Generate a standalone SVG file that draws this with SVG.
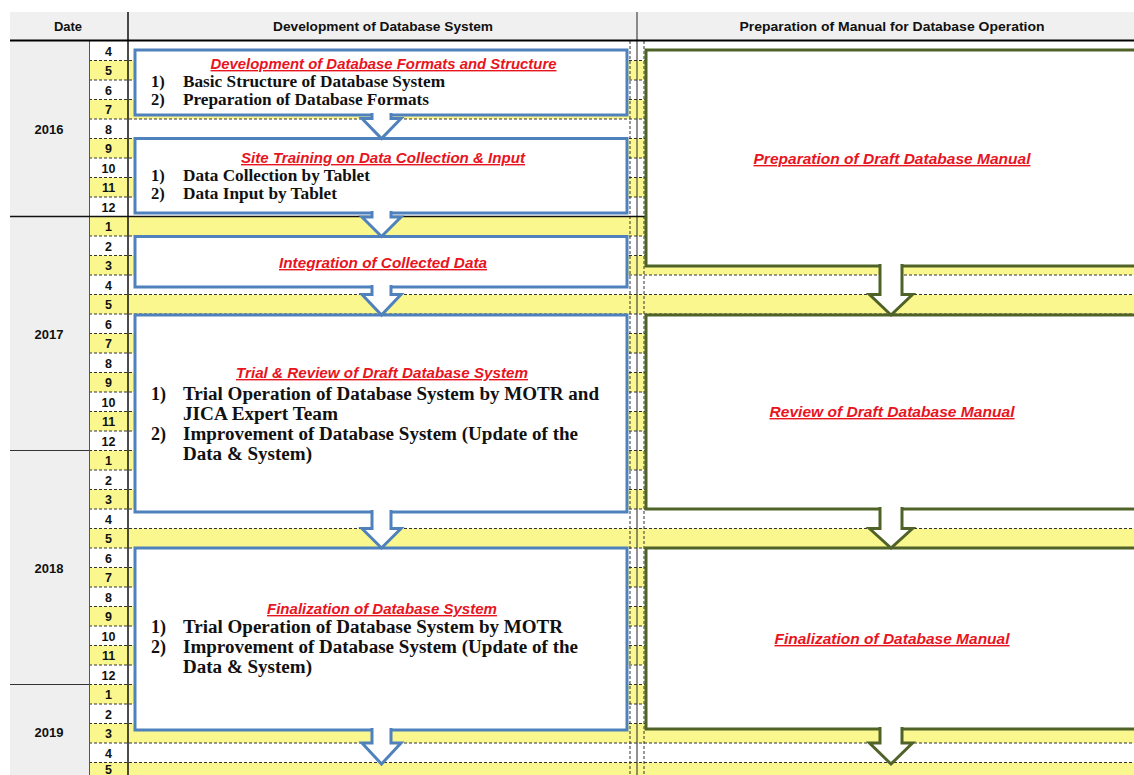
<svg xmlns="http://www.w3.org/2000/svg" width="1134" height="775" viewBox="0 0 1134 775">
  <style>
    .hdr { font-family: "Liberation Sans", Arial, sans-serif; font-weight: bold; font-size: 13px; fill: #111; }
    .yr { font-family: "Liberation Sans", Arial, sans-serif; font-weight: bold; font-size: 13px; fill: #111; text-anchor: middle; }
    .mo { font-family: "Liberation Sans", Arial, sans-serif; font-weight: bold; font-size: 12.5px; fill: #111; text-anchor: middle; }
    .ttl { font-family: "Liberation Sans", Arial, sans-serif; font-weight: bold; font-style: italic; font-size: 14px; fill: #e8141e; text-decoration: underline; text-anchor: middle; }
    .itm { font-family: "Liberation Serif", "Times New Roman", serif; font-weight: bold; font-size: 16.5px; fill: #111; }
    .itmL { font-family: "Liberation Serif", "Times New Roman", serif; font-weight: bold; font-size: 18px; fill: #111; }
    .dash { stroke: #333; stroke-width: 1; stroke-dasharray: 3 2; fill: none; }
    .dev { fill: #fff; stroke: #4f81bd; stroke-width: 3; }
    .man { fill: #fff; stroke: #4f6228; stroke-width: 3; }
    .arrB { fill: #fff; stroke: #4f81bd; stroke-width: 3; stroke-linejoin: miter; }
    .arrG { fill: #fff; stroke: #4f6228; stroke-width: 3; stroke-linejoin: miter; }
  </style>

  <!-- sheet background -->
  <rect x="0" y="0" width="1134" height="775" fill="#fff"/>
  <rect x="10" y="12" width="1124" height="28" fill="#f0f0f0"/>
  <rect x="10" y="41" width="79" height="734" fill="#efefef"/>

  <!-- odd-month rows shaded -->
  <g id="shading" fill="#fbf78f">
    <rect x="89" y="60.5" width="1045" height="19.5"/>
    <rect x="89" y="99.5" width="1045" height="19.5"/>
    <rect x="89" y="138.5" width="1045" height="19.5"/>
    <rect x="89" y="177.5" width="1045" height="19.5"/>
    <rect x="89" y="216.5" width="1045" height="19.5"/>
    <rect x="89" y="255.5" width="1045" height="19.5"/>
    <rect x="89" y="294.5" width="1045" height="19.5"/>
    <rect x="89" y="333.5" width="1045" height="19.5"/>
    <rect x="89" y="372.5" width="1045" height="19.5"/>
    <rect x="89" y="411.5" width="1045" height="19.5"/>
    <rect x="89" y="450.5" width="1045" height="19.5"/>
    <rect x="89" y="489.5" width="1045" height="19.5"/>
    <rect x="89" y="528.5" width="1045" height="19.5"/>
    <rect x="89" y="567.5" width="1045" height="19.5"/>
    <rect x="89" y="606.5" width="1045" height="19.5"/>
    <rect x="89" y="645.5" width="1045" height="19.5"/>
    <rect x="89" y="684.5" width="1045" height="19.5"/>
    <rect x="89" y="723.5" width="1045" height="19.5"/>
    <rect x="89" y="762.5" width="1045" height="19.5"/>
  </g>

  <!-- grid lines -->
  <g id="grid">
    <path class="dash" d="M89 60.5H1134M89 80H1134M89 99.5H1134M89 119H1134M89 138.5H1134M89 158H1134M89 177.5H1134M89 197H1134M89 236H1134M89 255.5H1134M89 275H1134M89 294.5H1134M89 314H1134M89 333.5H1134M89 353H1134M89 372.5H1134M89 392H1134M89 411.5H1134M89 431H1134M89 450.5H1134M89 470H1134M89 489.5H1134M89 509H1134M89 528.5H1134M89 548H1134M89 567.5H1134M89 587H1134M89 606.5H1134M89 626H1134M89 645.5H1134M89 665H1134M89 684.5H1134M89 704H1134M89 723.5H1134M89 743H1134M89 762.5H1134"/>
    <path class="dash" d="M630 41V775M644 41V775"/>
    <line x1="89.5" y1="41" x2="89.5" y2="775" stroke="#555" stroke-width="1"/>
    <line x1="128" y1="12" x2="128" y2="775" stroke="#111" stroke-width="1.5"/>
    <line x1="637" y1="12" x2="637" y2="775" stroke="#222" stroke-width="1"/>
    <line x1="10" y1="40.5" x2="1134" y2="40.5" stroke="#000" stroke-width="2"/>
    <line x1="10" y1="216.5" x2="1134" y2="216.5" stroke="#111" stroke-width="1.5"/>
    <line x1="10" y1="450.5" x2="89" y2="450.5" stroke="#333" stroke-width="1.2"/>
    <line x1="10" y1="684.5" x2="89" y2="684.5" stroke="#333" stroke-width="1.2"/>
  </g>

  <!-- column headings -->
  <g id="header">
    <text class="hdr" x="68" y="31" text-anchor="middle">Date</text>
    <text class="hdr" x="383" y="31" text-anchor="middle" textLength="220" lengthAdjust="spacingAndGlyphs">Development of Database System</text>
    <text class="hdr" x="892" y="31" text-anchor="middle" textLength="305" lengthAdjust="spacingAndGlyphs">Preparation of Manual for Database Operation</text>
  </g>

  <!-- years -->
  <g id="years">
    <text class="yr" x="49" y="134">2016</text>
    <text class="yr" x="49" y="339">2017</text>
    <text class="yr" x="49" y="573">2018</text>
    <text class="yr" x="49" y="737">2019</text>
  </g>

  <!-- months -->
  <g id="months">
    <text class="mo" x="108.5" y="55.5">4</text>
    <text class="mo" x="108.5" y="75">5</text>
    <text class="mo" x="108.5" y="94.5">6</text>
    <text class="mo" x="108.5" y="114">7</text>
    <text class="mo" x="108.5" y="133.5">8</text>
    <text class="mo" x="108.5" y="153">9</text>
    <text class="mo" x="108.5" y="172.5">10</text>
    <text class="mo" x="108.5" y="192">11</text>
    <text class="mo" x="108.5" y="211.5">12</text>
    <text class="mo" x="108.5" y="231">1</text>
    <text class="mo" x="108.5" y="250.5">2</text>
    <text class="mo" x="108.5" y="270">3</text>
    <text class="mo" x="108.5" y="289.5">4</text>
    <text class="mo" x="108.5" y="309">5</text>
    <text class="mo" x="108.5" y="328.5">6</text>
    <text class="mo" x="108.5" y="348">7</text>
    <text class="mo" x="108.5" y="367.5">8</text>
    <text class="mo" x="108.5" y="387">9</text>
    <text class="mo" x="108.5" y="406.5">10</text>
    <text class="mo" x="108.5" y="426">11</text>
    <text class="mo" x="108.5" y="445.5">12</text>
    <text class="mo" x="108.5" y="465">1</text>
    <text class="mo" x="108.5" y="484.5">2</text>
    <text class="mo" x="108.5" y="504">3</text>
    <text class="mo" x="108.5" y="523.5">4</text>
    <text class="mo" x="108.5" y="543">5</text>
    <text class="mo" x="108.5" y="562.5">6</text>
    <text class="mo" x="108.5" y="582">7</text>
    <text class="mo" x="108.5" y="601.5">8</text>
    <text class="mo" x="108.5" y="621">9</text>
    <text class="mo" x="108.5" y="640.5">10</text>
    <text class="mo" x="108.5" y="660">11</text>
    <text class="mo" x="108.5" y="679.5">12</text>
    <text class="mo" x="108.5" y="699">1</text>
    <text class="mo" x="108.5" y="718.5">2</text>
    <text class="mo" x="108.5" y="738">3</text>
    <text class="mo" x="108.5" y="757.5">4</text>
    <text class="mo" x="108.5" y="774">5</text>
  </g>

  <!-- development tasks -->
  <g id="dev-formats">
    <rect class="dev" x="135" y="50" width="492" height="65"/>
    <text class="ttl" x="383.5" y="69" textLength="346" lengthAdjust="spacingAndGlyphs">Development of Database Formats and Structure</text>
    <text class="itm" x="151" y="87">1)</text>
    <text class="itm" x="183" y="87" textLength="262" lengthAdjust="spacingAndGlyphs">Basic Structure  of Database System</text>
    <text class="itm" x="151" y="104.5">2)</text>
    <text class="itm" x="183" y="104.5" textLength="246" lengthAdjust="spacingAndGlyphs">Preparation  of Database Formats</text>
  </g>

  <g id="dev-training">
    <rect class="dev" x="135" y="138.5" width="492" height="74.5"/>
    <text class="ttl" x="383" y="163" textLength="284" lengthAdjust="spacingAndGlyphs">Site Training on Data Collection &amp; Input</text>
    <text class="itm" x="151" y="181">1)</text>
    <text class="itm" x="183" y="181" textLength="187" lengthAdjust="spacingAndGlyphs">Data Collection by Tablet</text>
    <text class="itm" x="151" y="198.5">2)</text>
    <text class="itm" x="183" y="198.5" textLength="154" lengthAdjust="spacingAndGlyphs">Data Input  by Tablet</text>
  </g>

  <g id="dev-integration">
    <rect class="dev" x="135" y="236.5" width="492" height="50.5"/>
    <text class="ttl" x="383" y="268" textLength="208" lengthAdjust="spacingAndGlyphs">Integration of Collected Data</text>
  </g>

  <g id="dev-trial">
    <rect class="dev" x="135" y="315" width="492" height="197"/>
    <text class="ttl" x="382" y="378" textLength="292" lengthAdjust="spacingAndGlyphs">Trial &amp; Review of Draft Database System</text>
    <text class="itmL" x="151" y="400">1)</text>
    <text class="itmL" x="183" y="400" textLength="416" lengthAdjust="spacingAndGlyphs">Trial Operation of Database System by MOTR and</text>
    <text class="itmL" x="183" y="420" textLength="155" lengthAdjust="spacingAndGlyphs">JICA Expert Team</text>
    <text class="itmL" x="151" y="440">2)</text>
    <text class="itmL" x="183" y="440" textLength="395" lengthAdjust="spacingAndGlyphs">Improvement of Database System (Update of the</text>
    <text class="itmL" x="183" y="460" textLength="129" lengthAdjust="spacingAndGlyphs">Data &amp; System)</text>
  </g>

  <g id="dev-final">
    <rect class="dev" x="135" y="548" width="492" height="182"/>
    <text class="ttl" x="382" y="614" textLength="230" lengthAdjust="spacingAndGlyphs">Finalization of Database System</text>
    <text class="itmL" x="151" y="633">1)</text>
    <text class="itmL" x="183" y="633" textLength="380" lengthAdjust="spacingAndGlyphs">Trial Operation of Database System by MOTR</text>
    <text class="itmL" x="151" y="653">2)</text>
    <text class="itmL" x="183" y="653" textLength="395" lengthAdjust="spacingAndGlyphs">Improvement of Database System (Update of the</text>
    <text class="itmL" x="183" y="673" textLength="129" lengthAdjust="spacingAndGlyphs">Data &amp; System)</text>
  </g>

  <!-- manual tasks -->
  <g id="man-draft">
    <rect class="man" x="646" y="50" width="500" height="216"/>
    <text class="ttl" x="892" y="164" textLength="277" lengthAdjust="spacingAndGlyphs">Preparation of Draft Database Manual</text>
  </g>

  <g id="man-review">
    <rect class="man" x="646" y="315" width="500" height="194"/>
    <text class="ttl" x="892" y="417" textLength="245" lengthAdjust="spacingAndGlyphs">Review of Draft Database Manual</text>
  </g>

  <g id="man-final">
    <rect class="man" x="646" y="548" width="500" height="181"/>
    <text class="ttl" x="892" y="644" textLength="235" lengthAdjust="spacingAndGlyphs">Finalization of Database Manual</text>
  </g>

  <!-- block arrows joining consecutive stages -->
  <g id="connectors">
    <path class="arrB" d="M372 113V118.5H362L381.5 138.5L401 118.5H391V113"/>
    <path class="arrB" d="M372 211V217H362L381.5 236.5L401 217H391V211"/>
    <path class="arrB" d="M372 285V294.5H362L381.5 315L401 294.5H391V285"/>
    <path class="arrB" d="M372 510V528.5H362L381.5 548L401 528.5H391V510"/>
    <path class="arrB" d="M372 728V743H362L381.5 764L401 743H391V728"/>
    <path class="arrG" d="M880 264V294.5H869.5L891 315L912.5 294.5H902V264"/>
    <path class="arrG" d="M880 507V528.5H869.5L891 548L912.5 528.5H902V507"/>
    <path class="arrG" d="M880 727V743H869.5L891 764L912.5 743H902V727"/>
  </g>
</svg>
